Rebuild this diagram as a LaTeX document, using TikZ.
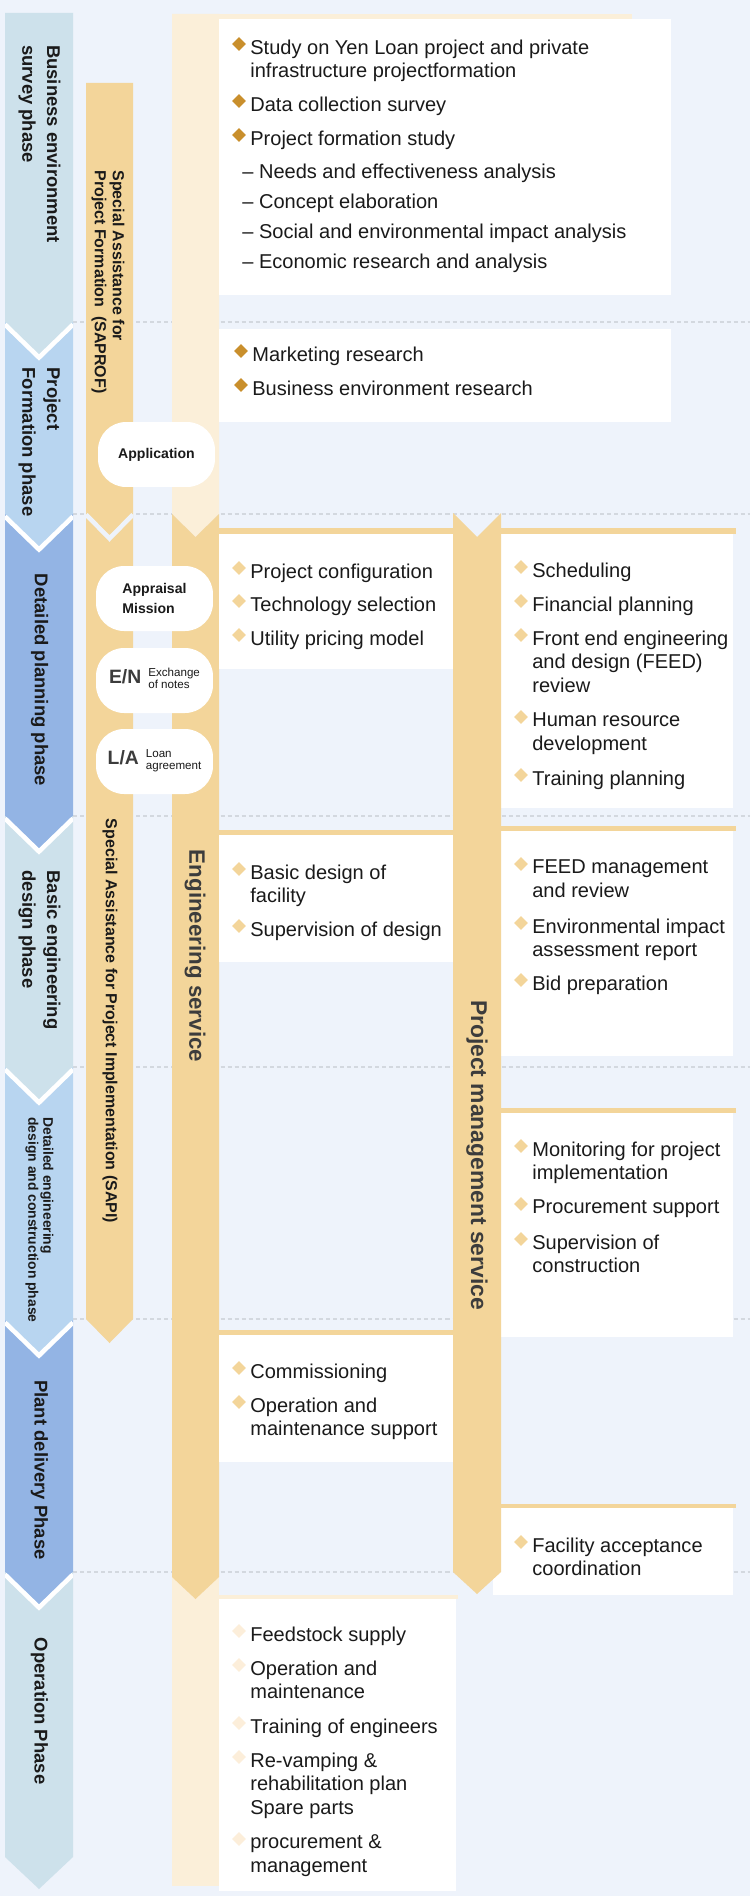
\documentclass[tikz,border=0pt]{standalone}
\usepackage{fontspec}
\setmainfont{Liberation Sans}
\usetikzlibrary{shapes.geometric}

\definecolor{bgblue}{HTML}{EEF3FB}
\definecolor{phasea}{HTML}{CDE1EB}
\definecolor{phaseb}{HTML}{B8D5F0}
\definecolor{phasec}{HTML}{93B4E4}
\definecolor{gold}{HTML}{F3D59A}
\definecolor{cream}{HTML}{FBEFD9}
\definecolor{gemdark}{HTML}{C98F2C}
\definecolor{gempale}{HTML}{FCEEDA}
\definecolor{dashgray}{HTML}{D3D8DF}
\definecolor{ink}{HTML}{1A1A1A}
\definecolor{inkgray}{HTML}{3C3C3C}

\tikzset{
  gem/.style={diamond, fill=#1, inner sep=0pt, minimum size=0.28cm},
  item/.style={anchor=north west, inner sep=0pt, align=left, text=ink,
    font=\fontsize{11.4pt}{13.4pt}\selectfont},
  phaselabel/.style={rotate=-90, align=left, inner sep=0pt, text=ink,
    font=\bfseries\fontsize{10.5pt}{14.2pt}\selectfont},
  pill/.style={fill=white, rounded corners=0.56cm, minimum width=2.34cm,
    minimum height=1.3cm, inner sep=0pt, align=left, text=ink,
    font=\bfseries\fontsize{8pt}{11.4pt}\selectfont},
  phaseline/.style={dashgray, line width=0.6pt, dash pattern=on 2.3pt off 1.7pt},
}

\begin{document}
\begin{tikzpicture}[x=0.02cm, y=-0.02cm]
    \useasboundingbox (0,0) rectangle (750,1896);
    \fill[bgblue] (0,0) rectangle (750,1896);

    % phase separators
    \foreach \y in {322,514,816,1067,1319,1572}
        \draw[phaseline] (73,\y) -- (750,\y);

    % phase column
    \begin{scope}
        \clip (5,0) rectangle (73,1896);
        \fill[phasea] (5,13) -- (73,13) -- (73,322) -- (39,355) -- (5,322) -- cycle;
        \foreach \t/\b/\c in {322/514/phaseb, 514/816/phasec, 816/1067/phasea,
                              1067/1320/phaseb, 1320/1572/phasec}
            \fill[\c] (5,\t) -- (39,\t+33) -- (73,\t) -- (73,\b) -- (39,\b+33) -- (5,\b) -- cycle;
        \fill[phasea] (5,1572) -- (39,1605) -- (73,1572) -- (73,1857) -- (39,1889) -- (5,1857) -- cycle;
        \foreach \t in {322,514,816,1067,1320,1572}
            \draw[white, line width=2.6pt] (5,\t+2.5) -- (39,\t+35.5) -- (73,\t+2.5);
    \end{scope}

    % SAPROF / SAPI column
    \fill[gold] (86,83) -- (133,83) -- (133,512) -- (109.5,536) -- (86,512) -- cycle;
    \fill[gold] (86,512) -- (109.5,536) -- (133,512) -- (133,1319) -- (109.5,1343) -- (86,1319) -- cycle;
    \begin{scope}
        \clip (86,0) rectangle (133,1896);
        \draw[bgblue, line width=2.6pt] (86,514.5) -- (109.5,538.5) -- (133,514.5);
    \end{scope}

    % engineering service column
    \fill[cream] (172,14) rectangle (632,40);
    \fill[cream] (172,14) -- (219,14) -- (219,514) -- (195.5,537) -- (172,514) -- cycle;
    \fill[cream] (172,1570) rectangle (219,1886);
    \fill[gold] (172,514) -- (195.5,537) -- (219,514) -- (219,1577) -- (195.5,1599) -- (172,1577) -- cycle;

    % boxes
    \fill[white] (219,19) rectangle (671,295);
    \fill[white] (219,329) rectangle (671,422);
    \fill[gold] (219,528) rectangle (453,534);
    \fill[white] (219,534) rectangle (453,669);
    \fill[gold] (501,528) rectangle (736,534);
    \fill[white] (501,534) rectangle (733,808);
    \fill[gold] (219,830) rectangle (453,835);
    \fill[white] (219,835) rectangle (453,962);
    \fill[gold] (501,826) rectangle (736,831);
    \fill[white] (501,831) rectangle (733,1056);
    \fill[gold] (501,1108) rectangle (736,1113);
    \fill[white] (501,1113) rectangle (733,1337);
    \fill[gold] (219,1330) rectangle (453,1335);
    \fill[white] (219,1335) rectangle (453,1462);
    \fill[gold] (501,1504) rectangle (736,1508);
    \fill[white] (493,1508) rectangle (733,1595);
    \fill[cream] (219,1595) rectangle (458,1599);
    \fill[white] (219,1599) rectangle (456,1891);

    % project management column
    \fill[gold] (453,513) -- (477,537) -- (501,513) -- (501,1572) -- (477,1594) -- (453,1572) -- cycle;

    % phase labels
    \node[phaselabel] (ph1) at (39.5,144) {Business environment\\survey phase};
    \node[phaselabel] (ph2) at (39.5,442) {Project\\Formation phase};
    \node[phaselabel] (ph3) at (39.5,680) {Detailed planning phase};
    \node[phaselabel] (ph4) at (39.5,950) {Basic engineering\\design phase};
    \node[phaselabel, font=\bfseries\fontsize{7.9pt}{8.5pt}\selectfont] (ph5) at (39.5,1220)
        {Detailed engineering\\design and construction phase};
    \node[phaselabel] (ph6) at (39.5,1470) {Plant delivery Phase};
    \node[phaselabel] (ph7) at (39.5,1711) {Operation Phase};

    % column labels
    \node[phaselabel, font=\bfseries\fontsize{9.1pt}{10.3pt}\selectfont] (saprof) at (108,282)
        {Special Assistance for\\Project Formation\ \ (SAPROF)};
    \node[phaselabel, font=\bfseries\fontsize{9.1pt}{10.3pt}\selectfont] (sapi) at (110,1021)
        {Special Assistance for Project Implementation (SAPI)};
    \node[phaselabel, text=inkgray, font=\bfseries\fontsize{12.7pt}{14pt}\selectfont] (eng) at (195,956)
        {Engineering service};
    \node[phaselabel, text=inkgray, font=\bfseries\fontsize{13pt}{14pt}\selectfont] (pms) at (477,1155)
        {Project management service};

    % milestones
    \node[pill] (app) at (156.5,454.5) {Application};
    \node[pill] (appr) at (154.5,598.5) {Appraisal\\Mission};
    \node[pill] (en) at (154.5,680.5) {{\fontsize{11pt}{12pt}\selectfont\color{inkgray}E/N}\hspace{4pt}%
        {\mdseries\fontsize{6.6pt}{6.9pt}\selectfont\begin{tabular}{@{}l@{}}Exchange\\of notes\end{tabular}}};
    \node[pill] (la) at (154.5,761.5) {{\fontsize{11pt}{12pt}\selectfont\color{inkgray}L/A}\hspace{4pt}%
        {\mdseries\fontsize{6.6pt}{6.9pt}\selectfont\begin{tabular}{@{}l@{}}Loan\\agreement\end{tabular}}};

    % business environment survey
    \foreach \y/\txt [count=\i] in {47/{Study on Yen Loan project and private\\infrastructure projectformation},
                                    104/{Data collection survey}, 138/{Project formation study}} {
        \node[gem=gemdark] (sv-g\i) at (239,\y-3) {};
        \node[item] (sv-t\i) at (250,\y-7.5) {\txt};
    }
    \foreach \y/\txt [count=\i] in {171/{Needs and effectiveness analysis}, 201/{Concept elaboration},
                                    231/{Social and environmental impact analysis}, 261/{Economic research and analysis}}
        \node[item] (sv-d\i) at (242,\y-7.5) {– \txt};

    % project formation
    \foreach \y/\txt [count=\i] in {354/{Marketing research}, 388/{Business environment research}} {
        \node[gem=gemdark] (pf-g\i) at (241,\y-3) {};
        \node[item] (pf-t\i) at (252,\y-7.5) {\txt};
    }

    % detailed planning
    \foreach \y/\txt [count=\i] in {571/{Project configuration}, 604/{Technology selection}, 638/{Utility pricing model}} {
        \node[gem=gold] (dp-g\i) at (239,\y-3) {};
        \node[item] (dp-t\i) at (250,\y-7.5) {\txt};
    }
    \foreach \y/\txt [count=\i] in {570/{Scheduling}, 604/{Financial planning},
                                    638/{Front end engineering\\and design (FEED)\\review},
                                    720/{Human resource\\development}, 778/{Training planning}} {
        \node[gem=gold] (dm-g\i) at (521,\y-3) {};
        \node[item] (dm-t\i) at (532,\y-7.5) {\txt};
    }

    % basic engineering design
    \foreach \y/\txt [count=\i] in {872/{Basic design of\\facility}, 929/{Supervision of design}} {
        \node[gem=gold] (be-g\i) at (239,\y-3) {};
        \node[item] (be-t\i) at (250,\y-7.5) {\txt};
    }
    \foreach \y/\txt [count=\i] in {867/{FEED management\\and review}, 926/{Environmental impact\\assessment report},
                                    983/{Bid preparation}} {
        \node[gem=gold] (bm-g\i) at (521,\y-3) {};
        \node[item] (bm-t\i) at (532,\y-7.5) {\txt};
    }

    % detailed engineering and construction
    \foreach \y/\txt [count=\i] in {1149/{Monitoring for project\\implementation}, 1207/{Procurement support},
                                    1242/{Supervision of\\construction}} {
        \node[gem=gold] (dc-g\i) at (521,\y-3) {};
        \node[item] (dc-t\i) at (532,\y-7.5) {\txt};
    }

    % plant delivery
    \foreach \y/\txt [count=\i] in {1371/{Commissioning}, 1405/{Operation and\\maintenance support}} {
        \node[gem=gold] (pd-g\i) at (239,\y-3) {};
        \node[item] (pd-t\i) at (250,\y-7.5) {\txt};
    }
    \node[gem=gold] (pm-g1) at (521,1542) {};
    \node[item] (pm-t1) at (532,1537.5) {Facility acceptance\\coordination};

    % operation
    \foreach \y/\txt [count=\i] in {1634/{Feedstock supply}, 1668/{Operation and\\maintenance},
                                    1726/{Training of engineers},
                                    1760/{Re-vamping \&\\rehabilitation plan\\Spare parts},
                                    1842/{procurement \&\\management}} {
        \node[gem=gempale] (op-g\i) at (239,\y-3) {};
        \node[item] (op-t\i) at (250,\y-7.5) {\txt};
    }
\end{tikzpicture}
\end{document}
